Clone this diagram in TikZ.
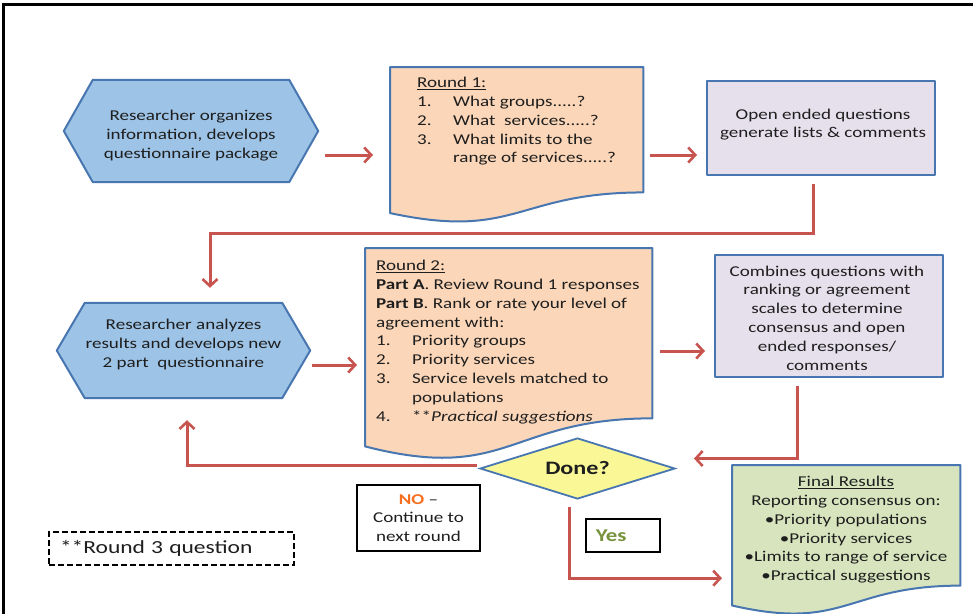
\documentclass[tikz,border=0pt]{standalone}
\usepackage{fontspec}
\setmainfont{Carlito}[FakeStretch=1.27]
\usetikzlibrary{arrows.meta,calc,backgrounds,shapes.geometric}
\definecolor{hexfill}{RGB}{157,195,230}
\definecolor{bordblue}{RGB}{72,118,176}
\definecolor{peach}{RGB}{251,214,184}
\definecolor{lav}{RGB}{230,224,236}
\definecolor{sage}{RGB}{216,228,190}
\definecolor{yel}{RGB}{250,248,150}
\definecolor{redline}{RGB}{200,84,80}
\definecolor{noorange}{RGB}{247,110,30}
\definecolor{yesgreen}{RGB}{119,147,60}
\definecolor{txt}{RGB}{30,30,30}
\tikzset{
  x=1pt, y=-1pt,
  every node/.style={text=txt, font=\fontsize{15pt}{18.8pt}\selectfont},
  blueborder/.style={draw=bordblue, line width=2pt, line join=round},
  holder/.style={draw=none, inner sep=0pt, align=center},
  plainbox/.style={blueborder, fill=lav, inner sep=0pt, align=center},
  blackbox/.style={draw=black, line width=1.5pt, inner sep=0pt, align=center},
  redarrow/.style={draw=redline, line width=3pt, -{Straight Barb[length=7pt,width=15pt,line width=2.6pt]}},
  listtext/.style={anchor=north west, align=left, inner sep=0pt},
}
\newcommand{\docpath}[2]{\draw[blueborder, fill=#2] (#1.north west) -- (#1.north east) -- ($(#1.north east)!0.802!(#1.south east)$) .. controls ($(#1.north)!0.802!(#1.south)$) and ($(#1.north)!1.108!(#1.south)$) .. ($(#1.north west)!0.934!(#1.south west)$) -- cycle;}
\newcommand{\hexpath}[3]{\draw[blueborder, fill=#2] (#1.west) -- ($(#1.north west)+(#3,0)$) -- ($(#1.north east)+(-#3,0)$) -- (#1.east) -- ($(#1.south east)+(-#3,0)$) -- ($(#1.south west)+(#3,0)$) -- cycle;}
\newcommand{\numitem}[1]{\makebox[36pt][l]{#1}}
\begin{document}
\begin{tikzpicture}
\useasboundingbox (0,0) rectangle (973,613);
% frame
\draw[line width=3pt, line cap=rect] (3.5,613) -- (3.5,4) -- (973,4);

% hexagons
\node[holder, minimum width=254pt, minimum height=102pt] (hex1) at (191,131) {};
\node[holder] (hex1t) at (191,135.5) {Researcher organizes\\information, develops\\questionnaire package};
\node[holder, minimum width=253pt, minimum height=95pt] (hex2) at (183.5,350.5) {};
\node[holder] (hex2t) at (183.5,344.5) {Researcher analyzes\\results and develops new\\2 part\ \ questionnaire};

% documents
\node[holder, minimum width=253pt, minimum height=156pt, anchor=north west] (r1) at (390,67) {};
\node[holder, minimum width=287pt, minimum height=212pt, anchor=north west] (r2) at (365,248) {};
\node[holder, minimum width=228pt, minimum height=150pt, anchor=north west] (fin) at (732,465) {};

\begin{scope}[on background layer]
\fill[white] (0,0) rectangle (973,613);
\hexpath{hex1}{hexfill}{29}
\hexpath{hex2}{hexfill}{28}
\docpath{r1}{peach}
\docpath{r2}{peach}
\docpath{fin}{sage}
\end{scope}

\node[listtext] (r1t) at (417,77) {\underline{Round 1:}\\
\numitem{1.}What groups.....?\\
\numitem{2.}What\ \ services.....?\\
\numitem{3.}What limits to the\\
\hspace*{36pt}range of services.....?};

\node[listtext] (r2t) at (376,260) {\underline{Round 2:}\\
\textbf{Part A}. Review Round 1 responses\\
\textbf{Part B}. Rank or rate your level of\\
agreement with:\\
\numitem{1.}Priority groups\\
\numitem{2.}Priority services\\
\numitem{3.}Service levels matched to\\
\hspace*{36pt}populations\\
\numitem{4.}**\textit{Practical suggestions}};

\node[holder, anchor=north] (fint) at (846,476) {\underline{Final Results}\\
Reporting consensus on:\\
•Priority populations\\
•Priority services\\
•Limits to range of service\\
•Practical suggestions};

% rectangles
\node[plainbox, minimum width=228pt, minimum height=94pt] (open) at (821,128) {};
\node[holder] (opent) at (823,124.5) {Open ended questions\\generate lists \& comments};
\node[plainbox, minimum width=228pt, minimum height=122pt] (comb) at (829,316) {};
\node[holder] (combt) at (827,318) {Combines questions with\\ranking or agreement\\scales to determine\\consensus and open\\ended responses/\\comments};

% decision
\node[diamond, draw=bordblue, line width=1.8pt, fill=yel, aspect=3.2, minimum width=195pt, minimum height=61pt, inner sep=0pt, font=\fontsize{19pt}{22pt}\selectfont\bfseries] (done) at (577.5,468.5) {Done?};

% labels
\node[blackbox, minimum width=123pt, minimum height=66pt] (no) at (418.5,518) {\textcolor{noorange}{\textbf{NO}} –\\Continue to\\next round};
\node[blackbox, minimum width=74pt, minimum height=33pt, anchor=west, inner xsep=0pt, align=left, text width=74pt] (yes) at (585,535.5) {\hspace*{10pt}\textcolor{yesgreen}{\fontsize{18pt}{20pt}\selectfont\textbf{Yes}}};
\node[draw=black, line width=2pt, dash pattern=on 6pt off 3pt, minimum width=245pt, minimum height=33pt, anchor=west, inner sep=0pt, text width=245pt, align=left, font=\fontsize{18.5pt}{20pt}\selectfont] (note) at (48,548.5) {\hspace*{11pt}**Round 3 question};

% connectors
\coordinate (y1) at (0,155);
\coordinate (y2) at (0,365);
\coordinate (y3) at (0,351);
\draw[redarrow, shorten <=7pt, shorten >=17pt] (hex1.east |- y1) -- (r1.west |- y1);
\draw[redarrow, shorten <=7pt, shorten >=9pt] (r1.east |- y1) -- (open.west |- y1);
\draw[redarrow] ($(open.south)+(-8,8)$) |- ($(hex2.north)+(26.5,-69)$) -- ($(hex2.north)+(26.5,-15)$);
\draw[redarrow, shorten <=2pt, shorten >=8pt] (hex2.east |- y2) -- (r2.west |- y2);
\draw[redarrow, shorten <=8pt, shorten >=9pt] (r2.east |- y3) -- (comb.west |- y3);
\draw[redarrow] ($(comb.south)+(-32,8)$) |- ($(done.east)+(18,-10)$);
\draw[redarrow] ($(done.west)+(-2,-3)$) -| ($(hex2.south)+(3.5,22)$);
\draw[redarrow] ($(done.south)+(-8.5,7)$) |- ($(fin.west)+(-10,38)$);
\end{tikzpicture}
\end{document}
